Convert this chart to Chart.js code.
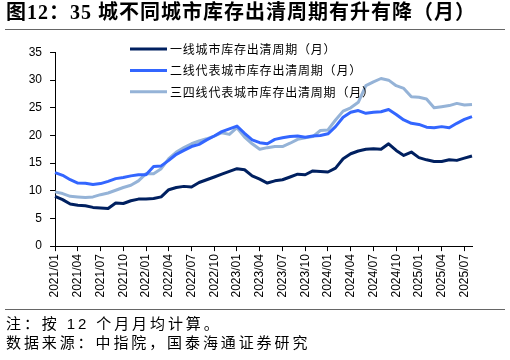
<!DOCTYPE html>
<html><head><meta charset="utf-8">
<script src="https://cdn.jsdelivr.net/npm/chart.js@4.4.0/dist/chart.umd.min.js"></script>
<style>
html,body{margin:0;padding:0;background:#fff;width:510px;height:360px;overflow:hidden;}
#wrap{position:relative;width:510px;height:360px;}
canvas{position:absolute;left:0;top:0;}
#title{position:absolute;left:6px;top:0px;font-family:"Liberation Serif","Noto Sans CJK SC";font-weight:bold;font-size:20px;letter-spacing:1px;line-height:25px;white-space:nowrap;color:#000;}
.rule{position:absolute;left:5px;width:500px;height:1px;background:#666;}
.note{position:absolute;left:6px;font-family:"Liberation Sans","Noto Sans CJK SC";font-size:15px;letter-spacing:2.9px;white-space:nowrap;color:#000;line-height:18px;}
</style></head>
<body><div id="wrap">
<canvas id="c" width="510" height="360"></canvas>
<div id="title">图12：35 城不同城市库存出清周期有升有降（月）</div>
<div class="rule" style="top:29px"></div>
<div class="rule" style="top:309px"></div>
<div class="note" style="top:315px">注：按 12 个月月均计算。</div>
<div class="note" style="top:334px">数据来源：中指院，国泰海通证券研究</div>
</div>
<script>
const months = [
 "2021/01","2021/02","2021/03","2021/04","2021/05","2021/06","2021/07","2021/08","2021/09","2021/10","2021/11","2021/12",
 "2022/01","2022/02","2022/03","2022/04","2022/05","2022/06","2022/07","2022/08","2022/09","2022/10","2022/11","2022/12",
 "2023/01","2023/02","2023/03","2023/04","2023/05","2023/06","2023/07","2023/08","2023/09","2023/10","2023/11","2023/12",
 "2024/01","2024/02","2024/03","2024/04","2024/05","2024/06","2024/07","2024/08","2024/09","2024/10","2024/11","2024/12",
 "2025/01","2025/02","2025/03","2025/04","2025/05","2025/06","2025/07","2025/08"
];
const seriesNames = ["一线城市库存出清周期（月）","二线代表城市库存出清周期（月）","三四线代表城市库存出清周期（月）"];
const tier1 = [9.0,8.4,7.6,7.4,7.3,7.0,6.9,6.8,7.8,7.7,8.2,8.5,
 8.5,8.6,8.9,10.2,10.6,10.8,10.7,11.5,12.0,12.5,13.0,13.5,
 14.0,13.8,12.7,12.1,11.4,11.8,12.0,12.5,13.0,12.9,13.6,13.5,
 13.4,14.1,15.8,16.7,17.2,17.5,17.6,17.5,18.5,17.3,16.4,17.0,
 16.0,15.6,15.3,15.3,15.6,15.5,15.9,16.3];
const tier2 = [13.3,12.8,12.0,11.4,11.35,11.15,11.3,11.7,12.2,12.4,12.7,12.9,
 12.9,14.4,14.5,15.5,16.6,17.3,18.0,18.4,19.2,19.9,20.7,21.2,
 21.7,20.4,19.2,18.7,18.5,19.3,19.6,19.8,19.9,19.7,19.9,20.0,
 20.3,21.6,23.3,24.2,24.5,24.0,24.2,24.3,24.7,23.8,22.8,22.2,
 22.0,21.5,21.4,21.6,21.4,22.2,22.9,23.4];
const tier34 = [9.8,9.5,9.0,8.9,8.8,8.9,9.3,9.6,10.1,10.6,11.0,11.8,
 13.1,13.1,14.0,15.8,17.0,17.8,18.5,19.0,19.4,19.9,20.5,20.2,
 21.4,19.7,18.5,17.5,17.8,18.0,18.0,18.6,19.3,19.6,19.8,20.9,
 21.0,22.8,24.4,25.0,26.0,29.0,29.7,30.3,30.0,29.0,28.5,27.0,
 26.9,26.6,25.0,25.2,25.4,25.8,25.5,25.6];
const yTicks = [0,5,10,15,20,25,30,35];
const colors = ["#002060","#3366FF","#95B3D7"];

const legendPlugin = {
  id:'lg',
  afterDraw(chart){
    const c = chart.ctx;
    chart.data.datasets.forEach((ds,i)=>{
      const y = 49 + i*21.4;
      c.save();
      c.strokeStyle = ds.borderColor; c.lineWidth = 3;
      c.beginPath(); c.moveTo(130,y); c.lineTo(167,y); c.stroke();
      c.fillStyle = '#000';
      c.font = '12px "Noto Sans CJK SC"';
      c.letterSpacing = '0.8px';
      c.textBaseline = 'middle';
      c.fillText(ds.label, 170, y+0.5);
      c.restore();
    });
  }
};

const mk = (i, d) => ({label:seriesNames[i], data:d, borderColor:colors[i], backgroundColor:colors[i],
  borderWidth:3, pointRadius:0, tension:0, borderJoinStyle:'round', fill:false});

new Chart(document.getElementById('c'), {
  type:'line',
  data:{labels:months, datasets:[mk(0,tier1), mk(1,tier2), mk(2,tier34)]},
  options:{
    responsive:false, animation:false, devicePixelRatio:1,
    layout:{padding:{left:20.7, right:38, top:52.5, bottom:59.5}},
    plugins:{legend:{display:false}, tooltip:{enabled:false}, title:{display:false}},
    scales:{
      x:{type:'category', offset:false,
        grid:{drawOnChartArea:false, tickLength:5, lineWidth:1,
          color:(ctx)=> (ctx.index%3===0 ? '#000' : 'rgba(0,0,0,0)')},
        border:{color:'#000', width:1},
        ticks:{autoSkip:false, maxRotation:90, minRotation:90, padding:3, color:'#000',
          font:{family:'"Liberation Sans", Arial', size:12},
          callback:function(v,i){ return i%3===0 ? this.getLabelForValue(v) : ''; }}
      },
      y:{min:yTicks[0], max:yTicks[yTicks.length-1],
        afterBuildTicks:(s)=>{ s.ticks = yTicks.map(v=>({value:v})); },
        grid:{drawOnChartArea:false, tickLength:5, color:'#000'},
        border:{color:'#000', width:1},
        ticks:{padding:8, color:'#000', font:{family:'"Liberation Sans", Arial', size:12}}
      }
    }
  },
  plugins:[legendPlugin]
});
</script>
</body></html>
